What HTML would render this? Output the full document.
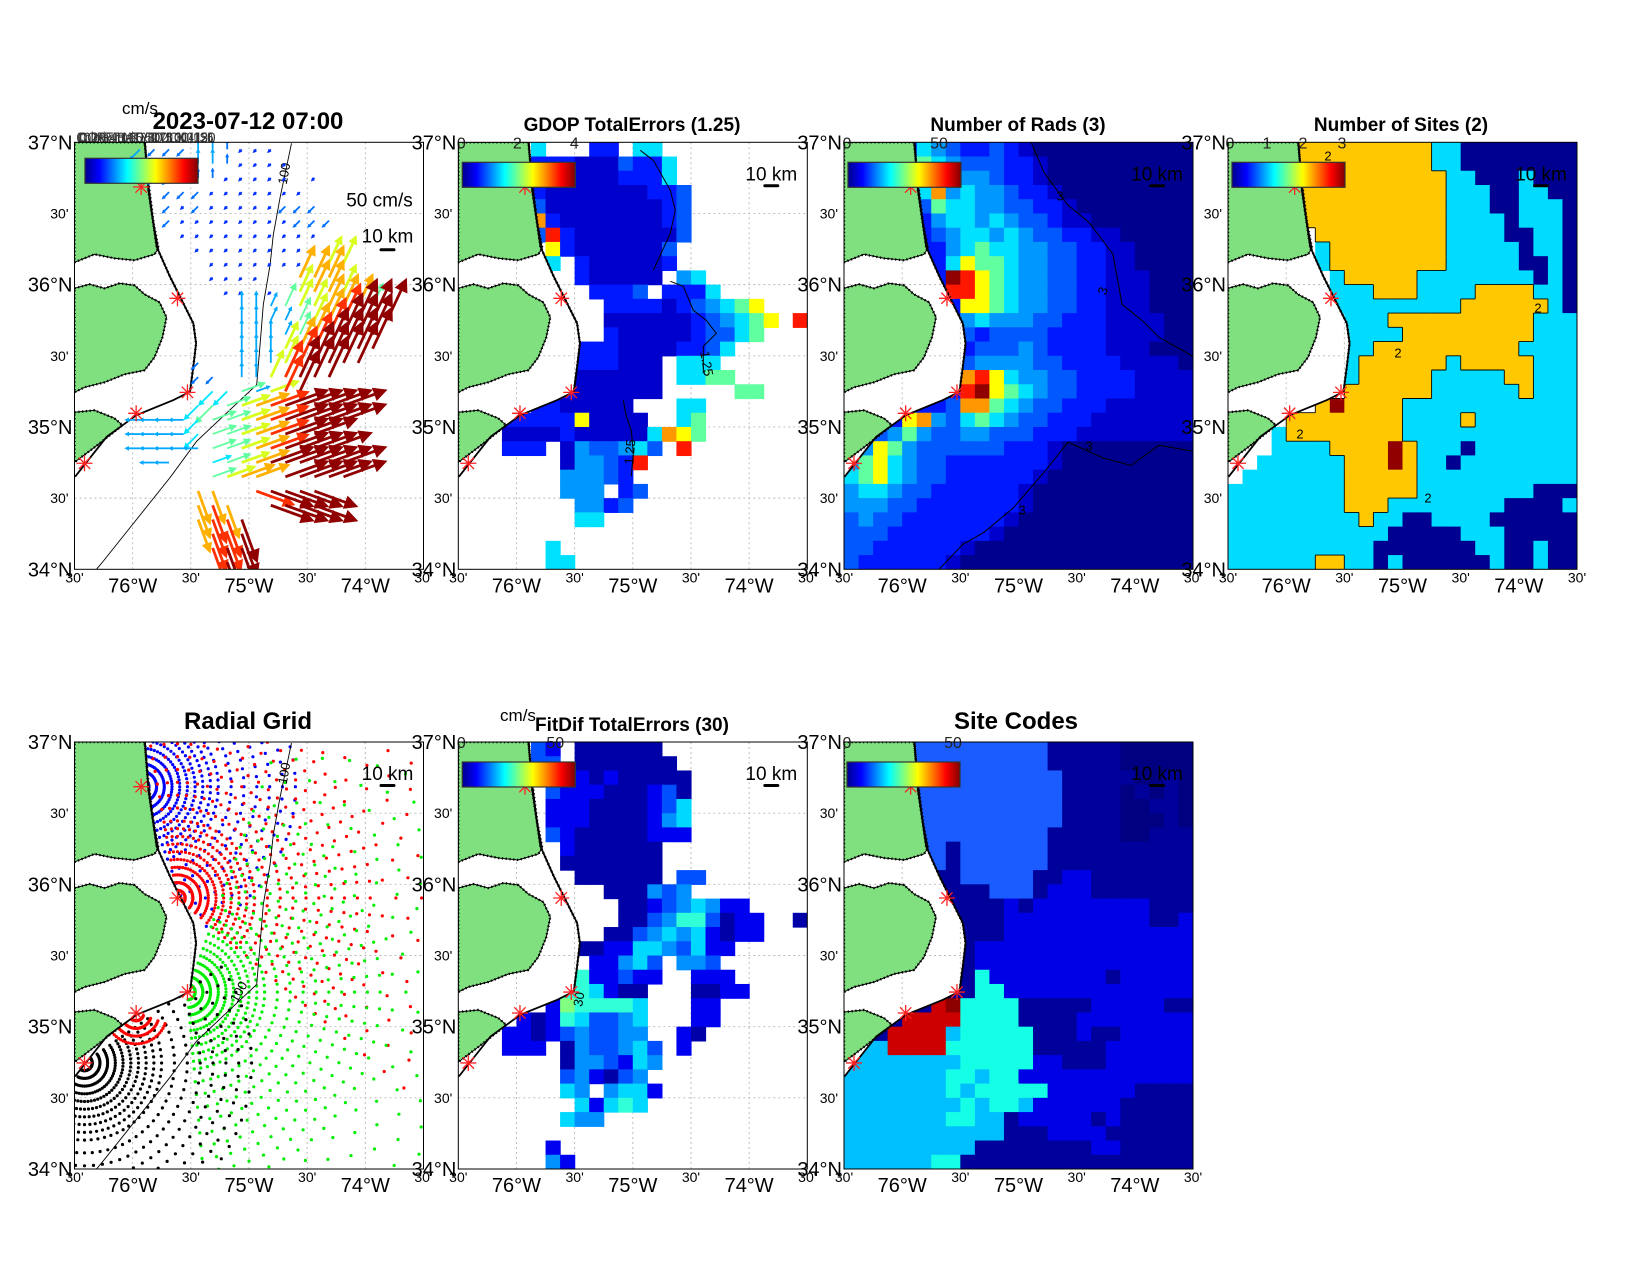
<!DOCTYPE html>
<html><head><meta charset="utf-8"><title>HF Radar Totals</title>
<style>
html,body{margin:0;padding:0;background:#fff;}
svg{display:block;font-family:"Liberation Sans",Arial,sans-serif;}
</style></head>
<body>
<svg id="fig" xmlns="http://www.w3.org/2000/svg" width="1650" height="1275" viewBox="0 0 1650 1275">
<defs>
<linearGradient id="jet" x1="0" y1="0" x2="1" y2="0">
<stop offset="0" stop-color="#00008f"/><stop offset="0.125" stop-color="#0000ff"/><stop offset="0.375" stop-color="#00ffff"/><stop offset="0.625" stop-color="#ffff00"/><stop offset="0.875" stop-color="#ff0000"/><stop offset="1" stop-color="#800000"/>
</linearGradient>
</defs>
<rect x="0" y="0" width="1650" height="1275" fill="#fff"/>
<text x="140" y="114" font-size="17" text-anchor="middle">cm/s</text>
<text x="248" y="129" font-size="24" font-weight="bold" text-anchor="middle">2023-07-12 07:00</text>
<text x="632" y="131" font-size="19" font-weight="bold" text-anchor="middle">GDOP TotalErrors (1.25)</text>
<text x="1018" y="131" font-size="19" font-weight="bold" text-anchor="middle">Number of Rads (3)</text>
<text x="1401" y="131" font-size="19" font-weight="bold" text-anchor="middle">Number of Sites (2)</text>
<text x="248" y="729" font-size="24" font-weight="bold" text-anchor="middle">Radial Grid</text>
<text x="518" y="721" font-size="17" text-anchor="middle">cm/s</text>
<text x="632" y="731" font-size="19" font-weight="bold" text-anchor="middle">FitDif TotalErrors (30)</text>
<text x="1016" y="729" font-size="24" font-weight="bold" text-anchor="middle">Site Codes</text>
</svg>
<script>
// ---------------- data ----------------
const lonTicks = [-76.5,-76,-75.5,-75,-74.5,-74,-73.5];
const latTicks = [37,36.5,36,35.5,35,34.5,34];
const siteLon = [-75.927,-75.615,-75.529,-75.970,-76.414];
const siteLat = [36.686,35.904,35.243,35.096,34.745];
const coastLon = [-75.894,-75.865,-75.793,-75.679,-75.593,-75.479,-75.455,-75.479,-75.507,-75.650,-75.965,-76.223,-76.496];
const coastLat = [37.0,36.665,36.266,36.056,35.915,35.728,35.587,35.423,35.247,35.189,35.084,34.931,34.650];
const isoLon = [-74.635,-74.733,-74.791,-74.819,-74.877,-74.905,-74.934,-75.450,-75.679,-76.252,-76.311];
const isoLat = [36.993,36.613,36.350,36.140,35.859,35.580,35.297,34.899,34.644,34.058,34.0];

const radsGrid = [
"2222254322321000000","22222654333221000000","222227654432210000","2222258454432210000",
"22222365544332210000","222222455454332110000","2222223455454332211000","22222224565544332211000",
"222222257665443322110000","2222222D9765443322111000","22222229976544332211100","22222222776544332211100",
"22222222454443322211110","222222223233332222111100","222222222333432222111000","222222223444433222211110",
"222222228975443322221111","222222229D76543322221111","222222238865433222111111","222278435654332221111111",
"223464334433322211111111","347643333332221000000000","467543322222221000000000","567543322222210000000000",
"455433222222100000000000","444332222222100000000000","343322222221000000000000","333222222210000000000000",
"332222221000000000000000","322222210000000000000000"];
const gdopGrid = [
".....5...22.55",".....2221113225",".....2221112225",".....21111111223",
".....31111111123",".....82111111123",".....39211111113","......721111113",
"......5.2111112","........211111.45",".........2223.2225","..........22221234567",
"..........111111234567.9","..........21111123356","........22211112235","........222111.555",
"......2.111111.5566","......42111111.....66",".....2211111...55","...2222271111..56",
"...11112111115876","...222.1433453.9",".......144329",".......44432",
".......444.23","........4423","........55","",
"......5","......55"];
const sitesGrid = [
"....YYYYYYYYYYCCNNNNNNNN","....YYYYYYYYYYCCNNNNNNNN",".....YYYYYYYYYYCCNNNCNNN",".....YYYYYYYYYYCCCNNCCNN",
".....YYYYYYYYYYCCCNNCCCN",".....YYYYYYYYYYCCCCNCCCN","......YYYYYYYYYCCCCNNCCN","......CYYYYYYYYCCCCCNCCN",
"......CYYYYYYYYCCCCCNNCN",".......CYYYYYCCCCCCCCNCN",".......CCCYYYCCCCYYYYCCN",".......CCCCCCCCCYYYYYYCN",
"........CCCYYYYYYYYYYCCC","........CCCCYYYYYYYYYCCC","........CCYYYYYYYYYYCCCC","........CYYYYYYCYYYYYCCC",
"........CYYYYYCCCCCYYCCC","........YYYYYYCCCCCCYCCC","......YRYYYYCCCCCCCCCCCC","....YYYYYYYYCCCCYCCCCCCC",
"...CYYYYYYYYCCCCCCCCCCCC","...CCCCYYYYRYCCCNCCCCCCC","..CCCCCCYYYRYCCNCCCCCCCC",".CCCCCCCYYYYYCCCCCCCCCCC",
"CCCCCCCCYYYYYCCCCCCCCNNN","CCCCCCCCYYYCCCCCCCCNNNNC","CCCCCCCCCYCCNNCCCCNNNNNN","CCCCCCCCCCCNNNNNCCCNNNNN",
"CCCCCCCCCCNNNNNNNCCNNCNN","CCCCCCYYCCNCNNNNNNCNNCNN"];
const fitdifGrid = [
".....32.111111",".....33.1111111",".....33221211111","......3222111231",
"......2221111235","......2221111245","......3211111222",".......2111111",
".......1111111","........111111.33","..........111434","...........112345422",
"...........1134663122..1","..........11345452122","........11225543522",".........22453.443",
"........622322..222",".......665211...1122","......2766665...22","....212653345...22",
"...2212343344..21","...222.1433453.2",".......1443254",".......342134",
".......54.4552","........52565",".......544","",
"......2","......42"];
const codeGrid = [
"AAAAAAAAAAAAAABBBBBDDDDD","AAAAAAAAAAAAAABBBBBDDDDD","AAAAAAAAAAAAAAABBBBBDDBD","AAAAAAAAAAAAAAABBBBDBDBD",
"AAAAAAAAAAAAAAABBBBDDBBD","AAAAAAAAAAAAAAABBBBDDDBD","AAAAAAAAAAAAAABBBBBDDBBB","AAAAAAABAAAAAABBBBBBBBBB",
"AAAAAAABAAAAAABBBBBBBBBB","BBBBBBBBAAAAABBCCBBBBBBB","BBBBBBBBBBAAABCCCBBBBBBB","BBBBBBBBBBBCBCCCCCCCCBBB",
"BBBBBBBBBBBCCCCCCCCCCBBC","BBBBBBBBBBBCCCCCCCCCCCCC","BBBBBBBBBCCCCCCCCCCCCCCC","BBBBBBBBBCCCCCCCCCCCCCCC",
"BBBBBBBBBECCCCCCCCBCCCCC","BBBBBBBBBEECCCCCCCCCCCCC","BBBBBBRKEEEEBBBBBCCCCCBB","BBBBRRRREEEEBBBBCCCCCCCC",
"BBBRRRRFEEEEEBBBCBBCCCCC","FFFRRRREEEEEEBBBBBCCCCCC","FFFFFFFFEEEEECCBBBCCCCCC","FFFFFFFEEFEECCCCCCCCCCCC",
"FFFFFFFEFEEEEECCCCCCBBBB","FFFFFFFFEFEEFCCCCCCBBBBB","FFFFFFFEEFFBCCCCCBCBBBBB","FFFFFFFFFFFBBBCCCCBBBBBB",
"FFFFFFFFFBBBBBBBBCCBBBBB","FFFFFFEEBBBBBBBBBBBBBBBB"];
const vecSpeed = [
"....3222332111","....22223321111",".....2212211111.1","......22211111112",
"......21211111222","......211111111222",".......1111111111","........11111111",
".........1111111.66",".........1111..777","..........11.1.6776","...........3335667775",
"...........333356789995","...........33335789999","...........33367899999","........2..3336899999",
"........22.33689999",".........4453689","........45567899999","....3333455678999999",
"....33334556789999","....333335567899999",".....33..4567999999",".........5677.99999",
"........77..89999","........787..9999","........7889",".........889",
".........899","..........9"];
const vecDir = [
"....SSSSnnnSSS","....SSSSnnnSSSS",".....SSSnnSSSSS.S","......SSSSSSSSSS",
"......SSSSSSSSSSSS","......SSSSSSSSSSSS",".......SSSSSSSSSS","........SSSSSSSS",
".........SSSSSSS.aa",".........SSSS..aaa","..........SS.S.aaaa","...........nnaaaaaaaa",
"...........nnaaaaaaaaa","...........nnnaaaaaaa","...........nnnaaaaaaa","........S..nnnaaaaaa",
"........SS.nnaaaaa",".........SSbbbaaa","........SSbbbbbbbbb","....wwwwSbbbbbbbbbb",
"....wwwwSbbbbbbbb","....wwwwwbbbbbbbbb",".....ww..bbbbbbbbbb",".........bbbb.bbbbb",
"........cc..xxxxx","........ccc..xxxx","........cccc",".........ccc",
".........ccc","..........c"];
const radSiteIdx = [0,1,2,4,3];
const radColor = ["#0000ff","#ff0000","#00ee00","#000000","#ff0000"];
const radMaxKm = [120,230,240,130,24];
const radBearStart = [-5,-10,20,55,110];
const radBearEnd = [175,130,175,205,230];

// ---------------- helpers ----------------
const NS='http://www.w3.org/2000/svg';
const svg=document.getElementById('fig');
const W=349,H=427,NC=24,NR=30,CW=W/NC,CH=H/NR;
function mk(tag,parent,attrs){const e=document.createElementNS(NS,tag);for(const k in attrs)e.setAttribute(k,attrs[k]);parent.appendChild(e);return e;}
function X(lon){return (lon+76.5)/3*W;}
function Y(lat){return (37-lat)/3*H;}
function norm(s,fill){s=s||'';while(s.length<NC)s+=fill==='last'?(s.length?s[s.length-1]:'.'):'.';return s.slice(0,NC);}
const jetPal={'0':'#00008f','1':'#0000cc','2':'#0018ff','3':'#0058ff','4':'#0098ff','5':'#00e0ff','6':'#60ffa0','7':'#ffff00','8':'#ff9800','9':'#ff1800','D':'#900000'};
const sitesPal={'Y':'#ffc800','C':'#00dcff','N':'#000090','R':'#900000'};
const codePal={'A':'#1a5cff','B':'#00009a','C':'#0000e6','D':'#000080','E':'#14ffe6','F':'#00bfff','R':'#cc0000','K':'#8c0000'};
const fitPal={'1':'#0000a8','2':'#0000f0','3':'#0050ff','4':'#0090ff','5':'#00d8ff','6':'#30ffd8','7':'#80ff80'};
const spdCol=['#000090','#0030ff','#0070ff','#00a8ff','#00e8ff','#60ffa0','#d8ff20','#ffb000','#ff3000','#900000'];
const dirAng={'e':0,'b':20,'N':45,'a':65,'n':90,'W':135,'w':180,'S':225,'d':250,'s':270,'c':290,'E':315,'x':340};

const coastPts=coastLon.map((lo,i)=>[X(lo),Y(coastLat[i])]);
const oceanPts=[[coastPts[0][0],-2]].concat(coastPts,[[-2,coastPts[coastPts.length-1][1]],[-2,H+2],[W+2,H+2],[W+2,-2]]);
const isoPts=isoLon.map((lo,i)=>[X(lo),Y(isoLat[i])]);
const landPolys=[
[[0,0],[70,0],[74,40],[79,80],[84,106],[80,112],[60,118],[40,116],[20,112],[0,120]],
[[0,146],[15,142],[30,146],[45,141],[60,143],[70,152],[85,160],[92,175],[88,195],[80,215],[70,228],[50,232],[30,240],[10,245],[0,250]],
[[0,270],[20,268],[40,276],[48,283],[20,305],[0,320]]];
function P(a){return a.map(p=>p[0].toFixed(1)+','+p[1].toFixed(1)).join(' ');}

let clipN=0;
function makePanel(name,px,py){
  const g=mk('g',svg,{transform:`translate(${px},${py})`});
  
  
  clipN++;
  const cp=mk('clipPath',g,{id:'clip'+clipN});
  mk('rect',cp,{x:0,y:0,width:W,height:H});
  const op=mk('clipPath',g,{id:'ocean'+clipN});
  mk('polygon',op,{points:P(oceanPts)});
  const inner=mk('g',g,{'clip-path':`url(#clip${clipN})`});
  
  
  const grid=mk('g',inner,{});
  
  
  lonTicks.slice(1,-1).forEach(lo=>{const l=mk('line',grid,{x1:X(lo),y1:0,x2:X(lo),y2:H,stroke:'#b8b8b8','stroke-width':0.9,'stroke-dasharray':'2 3'});});
  latTicks.slice(1,-1).forEach(la=>{const l=mk('line',grid,{x1:0,y1:Y(la),x2:W,y2:Y(la),stroke:'#b8b8b8','stroke-width':0.9,'stroke-dasharray':'2 3'});});
  const ocean=mk('g',inner,{'clip-path':`url(#ocean${clipN})`});
  
  
  return {g,inner,ocean,px,py};
}
function drawHeat(p,grid,pal,fill,name){
  const hg=mk('g',p.ocean,{});
  
  
  for(let r=0;r<NR;r++){const s=norm(grid[r],fill);for(let c=0;c<NC;c++){const ch=s[c];if(ch==='.'||!pal[ch])continue;
    const rc=mk('rect',hg,{x:(c*CW).toFixed(2),y:(r*CH).toFixed(2),width:(CW+0.6).toFixed(2),height:(CH+0.6).toFixed(2),fill:pal[ch]});
    
    }}
}
function drawLand(p,withIso){
  const lg=mk('g',p.inner,{});
  
  
  landPolys.forEach(poly=>{
    const a=mk('polygon',lg,{points:P(poly),fill:'#80e080',stroke:'#000','stroke-width':1});
    
    
    const b=mk('polygon',lg,{points:P(poly),fill:'none',stroke:'#000','stroke-width':2.4,'stroke-dasharray':'1.2 2.6'});
    
    
  });
  const cl=mk('polyline',lg,{points:P(coastPts),fill:'none',stroke:'#000','stroke-width':1.8});
  
  
  const cl2=mk('polyline',lg,{points:P(coastPts.slice(0,9)),fill:'none',stroke:'#000','stroke-width':2.6,'stroke-dasharray':'1 3'});
  
  
  if(withIso){
    const iso=mk('polyline',lg,{points:P(isoPts),fill:'none',stroke:'#000','stroke-width':0.9});
    
    
  }
}
function drawStars(p){
  siteLon.forEach((lo,i)=>{
    const x=X(lo),y=Y(siteLat[i]);
    const sg=mk('g',p.inner,{});
    
    
    [0,45,90,135].forEach(a=>{const r=a*Math.PI/180;mk('line',sg,{x1:x-8*Math.cos(r),y1:y-8*Math.sin(r),x2:x+8*Math.cos(r),y2:y+8*Math.sin(r),stroke:'#ff2020','stroke-width':1.3});});
  });
}
function drawColorbar(p,x0,y0,labels){
  const cb=mk('rect',p.g,{x:x0,y:y0,width:113,height:25,fill:'url(#jet)',stroke:'#333','stroke-width':1.2});
  
  
  labels.forEach(l=>{const t=mk('text',p.g,{x:l[1],y:6,'font-size':16,'text-anchor':'middle',fill:'#222'});t.textContent=l[0];
    
    });
}
function drawScale(p,ty,by){
  const t=mk('text',p.g,{x:313,y:ty,'font-size':19,'text-anchor':'middle'});t.textContent='10 km';
  
  
  const b=mk('rect',p.g,{x:305,y:by,width:16,height:3,rx:1.5,fill:'#000'});
  
  
}
function drawAxes(p){
  const fr=mk('rect',p.g,{x:0,y:0,width:W,height:H,fill:'none',stroke:'#000','stroke-width':1});
  
  
  latTicks.forEach(la=>{
    const half=Math.abs(la-Math.round(la))>0.1;
    const t=mk('text',p.g,{x:half?-6:-2,y:Y(la)+(half?5:7),'font-size':half?14:20,'text-anchor':'end'});
    t.textContent=half?"30'":(la+'°N');
    
    
  });
  lonTicks.forEach(lo=>{
    const half=Math.abs(lo-Math.round(lo))>0.1;
    const t=mk('text',p.g,{x:X(lo),y:half?H+13:H+23,'font-size':half?14:20,'text-anchor':'middle'});
    t.textContent=half?"30'":(Math.abs(lo)+'°W');
    
    
  });
}
function contour(p,pts,name){
  const c=mk('polyline',p.inner,{points:P(pts),fill:'none',stroke:'#000','stroke-width':1});
  
  
}
function ctext(p,x,y,s,rot,name){
  const t=mk('text',p.inner,{x:x,y:y,'font-size':13,'text-anchor':'middle',transform:`rotate(${rot} ${x} ${y})`});t.textContent=s;
  
  
}

const LX=[74.5,458.3,844,1228], TY=[142.3,742];

// ---------- Panel 1 ----------
const p1=makePanel('total-vectors-map',LX[0],TY[0]);
drawLand(p1,true);
ctext(p1,214,32,'100',-80,'isobath-label');
(function(){
  const vg=mk('g',p1.inner,{});
  
  
  for(let r=0;r<NR;r++){const sp=norm(vecSpeed[r]),dr=norm(vecDir[r]);
    for(let c=0;c<NC;c++){if(sp[c]==='.'||dr[c]==='.')continue;
      const L=+sp[c],ang=dirAng[dr[c]]*Math.PI/180;
      const len=Math.max(5,L*5.2),x=c*CW+CW/2,y=r*CH+CH/2;
      const ux=Math.cos(ang),uy=-Math.sin(ang),ex=x+ux*len,ey=y+uy*len;
      const hl=Math.max(4,len*0.3),hw=hl*0.5;
      const col=spdCol[L];
      const ln=mk('line',vg,{x1:x,y1:y,x2:ex-ux*hl*0.6,y2:ey-uy*hl*0.6,stroke:col,'stroke-width':L>5?2.8:1.8});
      
      
      const bx=ex-ux*hl,by=ey-uy*hl;
      const hd=mk('polygon',vg,{points:P([[ex,ey],[bx-uy*hw,by+ux*hw],[bx+uy*hw,by-ux*hw]]),fill:col});
      
      
    }}
})();
drawStars(p1);
(function(){
  ['CODAR Totals 0 10 20 30 40 50','Colorbar 0 25 50 75 100 125','CORE HATY DUCK LISL','0 20 40 60 80 100 120'].forEach((s,i)=>{
    const t=mk('text',p1.g,{x:2+i,y:0,'font-size':15,fill:'#333',textLength:136,lengthAdjust:'spacingAndGlyphs'});t.textContent=s;
    
    
  });
  const cb=mk('rect',p1.g,{x:10.5,y:16,width:113,height:25,fill:'url(#jet)',stroke:'#333','stroke-width':1.2});
  
  
  const t=mk('text',p1.g,{x:305,y:64,'font-size':19,'text-anchor':'middle'});t.textContent='50 cm/s';
  
  
})();
drawScale(p1,100,106);
drawAxes(p1);

// ---------- Panel 2 ----------
const p2=makePanel('gdop-map',LX[1],TY[0]);
drawHeat(p2,gdopGrid,jetPal,'dot','gdop-heatmap');
drawLand(p2,false);
contour(p2,[[182,8],[195,18],[212,48],[217,68],[212,91],[195,128]],'gdop-contour');
contour(p2,[[212,139],[225,144],[235,168],[248,178],[258,191],[245,204],[245,231]],'gdop-contour');
contour(p2,[[165,258],[168,274],[173,288],[175,311],[173,334]],'gdop-contour');
ctext(p2,244,222,'1.25',80,'contour-label');
ctext(p2,176,310,'1.25',-85,'contour-label');
drawStars(p2);
drawColorbar(p2,4,20,[['0',3],['2',59],['4',116]]);
drawScale(p2,38,42);
drawAxes(p2);

// ---------- Panel 3 ----------
const p3=makePanel('number-of-rads-map',LX[2],TY[0]);
drawHeat(p3,radsGrid,jetPal,'last','rads-heatmap');
drawLand(p3,false);
contour(p3,[[187,0],[200,30],[224,63],[245,80],[269,112],[278,162],[300,180],[315,195],[349,214]],'rads-contour');
contour(p3,[[95,427],[119,402],[140,390],[169,366],[200,330],[224,300],[260,316],[287,323],[315,303],[349,309]],'rads-contour');
ctext(p3,216,58,'3',0,'contour-label');ctext(p3,263,150,'3',-70,'contour-label');ctext(p3,178,372,'3',0,'contour-label');ctext(p3,245,308,'3',0,'contour-label');
drawStars(p3);
drawColorbar(p3,4,20,[['0',3],['50',95]]);
drawScale(p3,38,42);
drawAxes(p3);

// ---------- Panel 4 ----------
const p4=makePanel('number-of-sites-map',LX[3],TY[0]);
drawHeat(p4,sitesGrid,sitesPal,'last','sites-heatmap');
(function(){
  const eg=mk('g',p4.ocean,{});
  
  
  const G=sitesGrid.map(s=>norm(s,'last'));
  const hi=(r,c)=>r>=0&&r<NR&&c>=0&&c<NC&&(G[r][c]==='Y'||G[r][c]==='R');
  let d='';
  for(let r=0;r<NR;r++)for(let c=0;c<NC;c++){if(!hi(r,c))continue;const x=c*CW,y=r*CH;
    if(!hi(r-1,c)&&r>0)d+=`M${x.toFixed(1)},${y.toFixed(1)}h${CW.toFixed(1)}`;
    if(!hi(r+1,c)&&r<NR-1)d+=`M${x.toFixed(1)},${(y+CH).toFixed(1)}h${CW.toFixed(1)}`;
    if(!hi(r,c-1)&&c>0)d+=`M${x.toFixed(1)},${y.toFixed(1)}v${CH.toFixed(1)}`;
    if(!hi(r,c+1)&&c<NC-1)d+=`M${(x+CW).toFixed(1)},${y.toFixed(1)}v${CH.toFixed(1)}`;}
  mk('path',eg,{d:d,stroke:'#000','stroke-width':0.9,fill:'none'});
})();
ctext(p4,100,18,'2',0,'contour-label');ctext(p4,170,215,'2',0,'contour-label');ctext(p4,72,296,'2',0,'contour-label');ctext(p4,200,360,'2',0,'contour-label');ctext(p4,310,170,'2',0,'contour-label');
drawLand(p4,false);
drawStars(p4);
drawColorbar(p4,4,20,[['0',2],['1',39],['2',75],['3',114]]);
drawScale(p4,38,42);
drawAxes(p4);

// ---------- Panel 5 ----------
const p5=makePanel('radial-grid-map',LX[0],TY[1]);
(function(){
  const dg=mk('g',p5.ocean,{});
  
  
  const pxKm=1.285;
  radSiteIdx.forEach((si,k)=>{
    const sx=X(siteLon[si]),sy=Y(siteLat[si]);
    let rk=6, idx=0;
    while(rk<=radMaxKm[k]){
      const far=rk>150;
      for(let b=radBearStart[k];b<=radBearEnd[k];b+=5){
        if(far&&((idx+Math.round(b/5))%2))continue;
        const a=b*Math.PI/180,rp=rk*pxKm;
        const dt=mk('circle',dg,{cx:(sx+rp*Math.sin(a)).toFixed(1),cy:(sy-rp*Math.cos(a)).toFixed(1),r:1.6,fill:radColor[k]});
        
        
      }
      rk+= rk<60?6:10; idx++;
    }
  });
})();
drawLand(p5,true);
ctext(p5,214,32,'100',-80,'isobath-label');
ctext(p5,168,252,'100',-60,'isobath-label');
drawStars(p5);
drawScale(p5,38,42);
drawAxes(p5);

// ---------- Panel 6 ----------
const p6=makePanel('fitdif-map',LX[1],TY[1]);
drawHeat(p6,fitdifGrid,fitPal,'dot','fitdif-heatmap');
drawLand(p6,false);
ctext(p6,125,258,'30',-80,'contour-label');
drawStars(p6);
drawColorbar(p6,4,20,[['0',3],['50',97]]);
drawScale(p6,38,42);
drawAxes(p6);

// ---------- Panel 7 ----------
const p7=makePanel('site-codes-map',LX[2],TY[1]);
drawHeat(p7,codeGrid,codePal,'last','site-codes-heatmap');
drawLand(p7,false);
drawStars(p7);
drawColorbar(p7,3,20,[['0',3],['50',109]]);
drawScale(p7,38,42);
drawAxes(p7);
</script>
</body></html>
